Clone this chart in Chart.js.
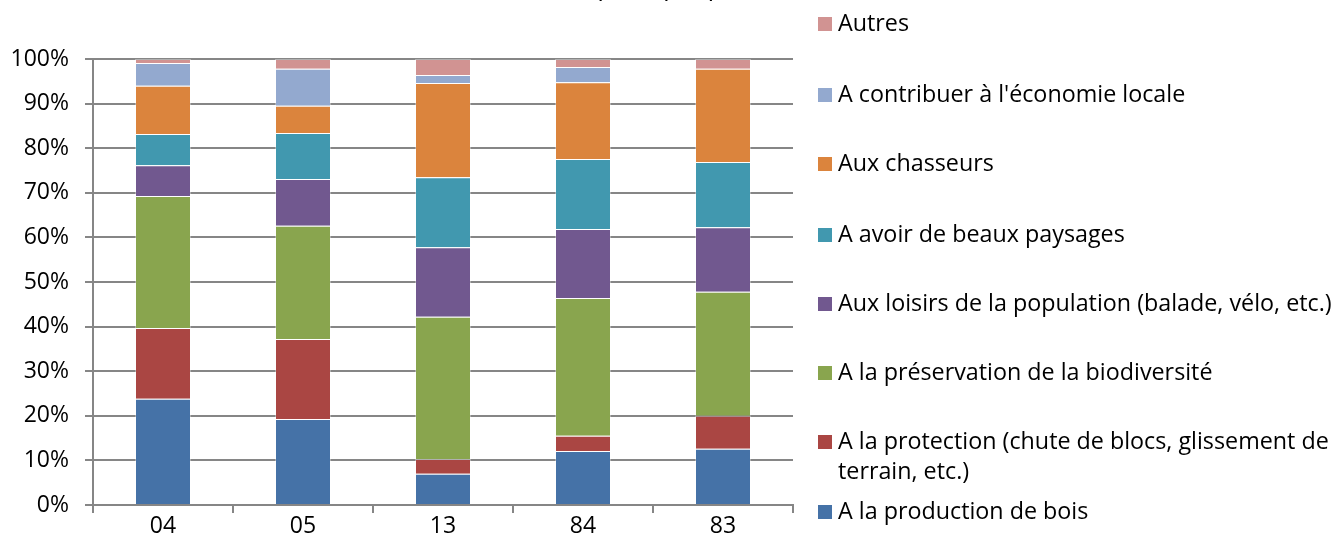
<!DOCTYPE html>
<html>
<head>
<meta charset="utf-8">
<script src="https://cdn.jsdelivr.net/npm/chart.js@4"></script>
<style>
  html, body { margin: 0; padding: 0; background: #fff; }
  #wrap { position: relative; width: 1337px; height: 550px; overflow: hidden; }
  #c { position: absolute; left: 0; top: 0; }
  #legend { position: absolute; left: 818px; top: 0; font-family: "Open Sans", "Liberation Sans", sans-serif; font-size: 23.3px; color: #000; }
  .item { position: absolute; left: 0; width: 520px; }
  .sw { position: absolute; left: 0; width: 14px; height: 14px; }
  .tx { position: absolute; left: 20px; line-height: 30px; white-space: nowrap; }
</style>
</head>
<body>
<div id="wrap">
  <canvas id="c" width="1337" height="550"></canvas>
  <div id="legend"></div>
</div>
<script>
const chartTitle = "Répartition par départements";
const departements = ["04", "05", "13", "84", "83"];

const production   = [23.8, 19.3,  7.0, 12.1, 12.6];
const protection   = [15.9, 17.9,  3.3,  3.4,  7.4];
const biodiversite = [29.6, 25.4, 31.9, 30.9, 27.8];
const loisirs      = [ 6.9, 10.5, 15.6, 15.5, 14.5];
const paysages     = [ 7.0, 10.3, 15.7, 15.7, 14.6];
const chasseurs    = [10.8,  6.1, 21.1, 17.2, 20.9];
const economie     = [ 5.1,  8.3,  1.8,  3.4,  0.0];
const autres       = [ 0.9,  2.2,  3.6,  1.8,  2.2];

const seriesNames = [
  "A la production de bois",
  "A la protection (chute de blocs, glissement de terrain, etc.)",
  "A la préservation de la biodiversité",
  "Aux loisirs de la population (balade, vélo, etc.)",
  "A avoir de beaux paysages",
  "Aux chasseurs",
  "A contribuer à l'économie locale",
  "Autres"
];
const seriesValues = [production, protection, biodiversite, loisirs, paysages, chasseurs, economie, autres];
const seriesColors = ["#4572A7", "#AA4643", "#89A54E", "#71588F", "#4198AF", "#DB843D", "#93A9CF", "#D19392"];
const yTicks = [0, 10, 20, 30, 40, 50, 60, 70, 80, 90, 100];

const FONT = "'Open Sans', 'Liberation Sans', sans-serif";

const datasets = seriesNames.map((name, i) => ({
  label: name,
  data: seriesValues[i],
  backgroundColor: seriesColors[i],
  borderColor: "rgba(255,255,255,0.35)",
  borderWidth: 1,
  barPercentage: 0.4,
  categoryPercentage: 1.0
}));

// Title, drawn at the very top edge of the canvas
const titlePlugin = {
  id: "topTitle",
  afterDraw(chart) {
    const ctx = chart.ctx;
    ctx.save();
    ctx.font = "bold 14px " + FONT;
    ctx.fillStyle = "#000";
    ctx.textAlign = "center";
    ctx.textBaseline = "alphabetic";
    ctx.fillText(chartTitle, 686, -2);
    ctx.restore();
  }
};

const chart = new Chart(document.getElementById("c"), {
  type: "bar",
  data: { labels: departements, datasets },
  plugins: [titlePlugin],
  options: {
    responsive: false,
    animation: false,
    layout: { padding: { top: 59, right: 544, left: 0, bottom: 0 } },
    plugins: { legend: { display: false }, tooltip: { enabled: false }, title: { display: false } },
    scales: {
      x: {
        stacked: true,
        grid: { display: true, drawOnChartArea: false, offset: true, tickLength: 8, color: "#868686", lineWidth: 2 },
        border: { color: "#868686", width: 2 },
        ticks: { color: "#000", font: { family: FONT, size: 23 }, padding: 0 },
        afterFit(s) { s.height = 45; }
      },
      y: {
        stacked: true,
        min: 0, max: 100,
        afterBuildTicks(s) { s.ticks = yTicks.map(v => ({ value: v })); },
        grid: { color: "#868686", lineWidth: 2, tickLength: 8 },
        border: { color: "#868686", width: 2 },
        ticks: { color: "#000", font: { family: FONT, size: 23 }, padding: 16, callback: v => v + "%" },
        afterFit(s) { s.width = 93; }
      }
    }
  }
});

// Legend on the right, listed top-down in reverse series order
const legendTops = [495, 425, 356, 287, 218, 147, 78, 7];
const legend = document.getElementById("legend");
chart.data.datasets.forEach((ds, i) => {
  const item = document.createElement("div");
  item.className = "item";
  item.style.top = legendTops[i] + "px";
  const sw = document.createElement("div");
  sw.className = "sw";
  sw.style.background = ds.backgroundColor;
  sw.style.top = "10px";
  const tx = document.createElement("div");
  tx.className = "tx";
  if (i === 1) {
    tx.innerHTML = "A la protection (chute de blocs, glissement de<br>terrain, etc.)";
  } else {
    tx.textContent = ds.label;
  }
  item.appendChild(sw);
  item.appendChild(tx);
  legend.appendChild(item);
});
</script>
</body>
</html>
